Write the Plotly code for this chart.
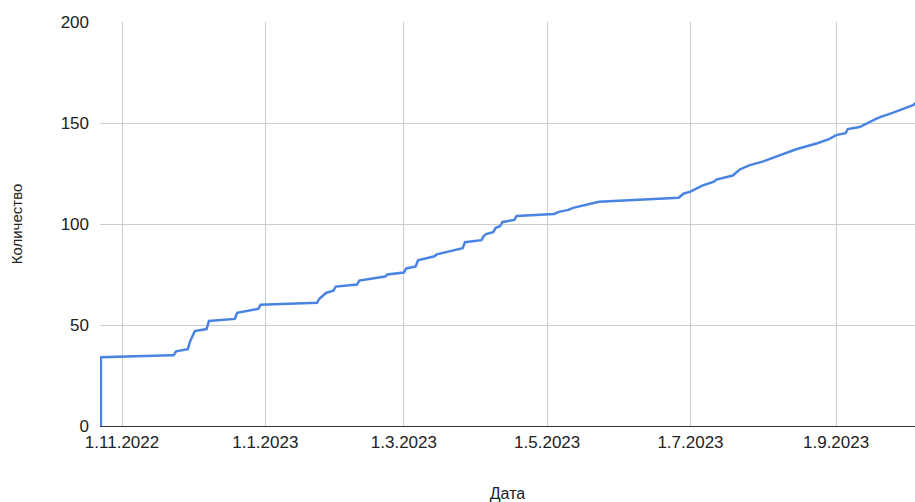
import plotly.graph_objects as go

# Cumulative count by date
dates = [
    "2022-10-23", "2022-10-23", "2022-11-22", "2022-11-23", "2022-11-24",
    "2022-11-29", "2022-11-30", "2022-12-01", "2022-12-02", "2022-12-07",
    "2022-12-08", "2022-12-19", "2022-12-20", "2022-12-29", "2022-12-30",
    "2023-01-23", "2023-01-24", "2023-01-27", "2023-01-30", "2023-01-31",
    "2023-02-09", "2023-02-10", "2023-02-21", "2023-02-22", "2023-03-01",
    "2023-03-02", "2023-03-06", "2023-03-07", "2023-03-14", "2023-03-15",
    "2023-03-26", "2023-03-27", "2023-04-03", "2023-04-04", "2023-04-05",
    "2023-04-08", "2023-04-09", "2023-04-11", "2023-04-12", "2023-04-17",
    "2023-04-18", "2023-05-04", "2023-05-06", "2023-05-10", "2023-05-12",
    "2023-05-23", "2023-06-26", "2023-06-28", "2023-07-01", "2023-07-06",
    "2023-07-11", "2023-07-12", "2023-07-19", "2023-07-22", "2023-07-26",
    "2023-08-01", "2023-08-08", "2023-08-15", "2023-08-24", "2023-08-29",
    "2023-09-01", "2023-09-05", "2023-09-06", "2023-09-11", "2023-09-18",
    "2023-09-20", "2023-09-25", "2023-10-04", "2023-10-05",
]
counts = [
    0, 34, 35, 35, 37,
    38, 42, 45, 47, 48,
    52, 53, 56, 58, 60,
    61, 63, 66, 67, 69,
    70, 72, 74, 75, 76,
    78, 79, 82, 84, 85,
    88, 91, 92, 94, 95,
    96, 98, 99, 101, 102,
    104, 105, 106, 107, 108,
    111, 113, 115, 116, 119,
    121, 122, 124, 127, 129,
    131, 134, 137, 140, 142,
    144, 145, 147, 148, 152,
    153, 155, 159, 160,
]

tick_dates = ["2022-11-01", "2023-01-01", "2023-03-01", "2023-05-01",
              "2023-07-01", "2023-09-01"]
tick_text = ["1.11.2022", "1.1.2023", "1.3.2023", "1.5.2023",
             "1.7.2023", "1.9.2023"]
y_ticks = [0, 50, 100, 150, 200]

font_family = "Liberation Sans, Arial, sans-serif"

fig = go.Figure(
    go.Scatter(
        x=dates,
        y=counts,
        mode="lines",
        line=dict(color="#4a84e2", width=2.5),
        hoverinfo="x+y",
    )
)

fig.update_layout(
    width=915,
    height=502,
    margin=dict(l=100, r=0, t=22, b=76),
    paper_bgcolor="white",
    plot_bgcolor="white",
    showlegend=False,
    font=dict(family=font_family, color="#222222"),
)

fig.update_xaxes(
    type="date",
    range=["2022-10-22 15:00", "2023-10-04 14:00"],
    tickvals=tick_dates,
    ticktext=tick_text,
    tickfont=dict(size=17, color="#222222"),
    showgrid=True,
    gridcolor="#cccccc",
    gridwidth=1,
    showline=True,
    linecolor="#333333",
    linewidth=1,
    zeroline=False,
    ticks="",
    ticklabelstandoff=1,
    title=dict(text="Дата", font=dict(size=16, color="#222222"), standoff=36),
)

fig.update_yaxes(
    range=[0, 200],
    tickvals=y_ticks,
    tickfont=dict(size=17, color="#222222"),
    showgrid=True,
    gridcolor="#cccccc",
    gridwidth=1,
    zeroline=False,
    showline=False,
    ticks="",
    ticklabelstandoff=10,
    title=dict(text="Количество", font=dict(size=15, color="#222222"), standoff=34),
)

fig.write_html("out.html")
